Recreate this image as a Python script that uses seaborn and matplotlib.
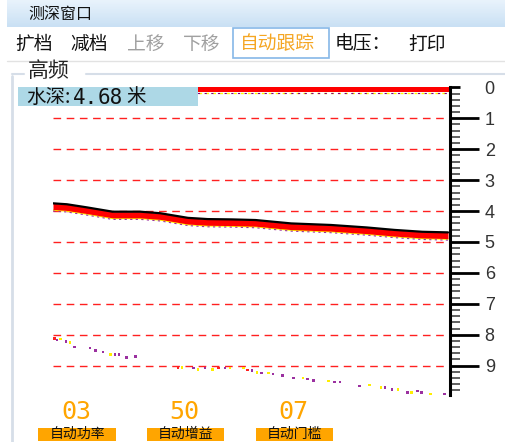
import numpy as np
import pandas as pd
import matplotlib
matplotlib.use("Agg")
import matplotlib.pyplot as plt
from matplotlib.patches import Rectangle
from matplotlib.lines import Line2D
import seaborn as sns

# ---------------- data ----------------
title_text = "测深窗口"
toolbar_items = ["扩档", "减档", "上移", "下移", "自动跟踪", "电压：", "打印"]
toolbar_x = [15, 70, 127, 183, 240, 335, 408]
toolbar_colors = ["#111111", "#111111", "#a0a0a0", "#a0a0a0", "#f5a623", "#111111", "#111111"]
group_title = "高频"
depth_value = "4.68"
depth_ticks = [0, 1, 2, 3, 4, 5, 6, 7, 8, 9]
grid_depths = [1, 2, 3, 4, 5, 6, 7, 8, 9]

# bottom profile (ping index 0..100, depth in m) - top edge of the echo
bottom_ping = [0, 3.5, 8.5, 15, 22, 27, 34, 39, 45, 51, 60, 70, 79, 86, 93, 99.5]
bottom_depth = [3.75, 3.78, 3.88, 4.02, 4.02, 4.07, 4.22, 4.26, 4.27, 4.29, 4.40, 4.45, 4.53, 4.61, 4.67, 4.69]

# second-echo scatter dots
echo_ping = [0.3, 1.0, 1.8, 3.3, 4.3, 5.5, 9.3, 10.8, 12.6, 14.4, 15.6, 16.6, 18.6, 20.7,
             31.5, 32.5, 35.3, 36.5, 38.3, 40.1, 41.6, 43.3, 44.6, 47.9, 48.9, 50.1, 51.4,
             52.6, 54.2, 55.4, 57.9, 60.5, 63.0, 64.2, 65.7, 69.3, 71.0, 72.3, 77.3, 79.8,
             82.6, 83.6, 85.4, 86.9, 89.2, 90.4, 91.9, 92.9, 95.0, 98.7]
echo_depth = [8.11, 8.17, 8.14, 8.21, 8.24, 8.40, 8.43, 8.50, 8.56, 8.63, 8.63, 8.63, 8.73, 8.70,
              9.05, 9.05, 9.08, 9.12, 9.08, 9.12, 9.08, 9.08, 9.08, 9.08, 9.14, 9.17, 9.21,
              9.24, 9.24, 9.27, 9.31, 9.40, 9.40, 9.43, 9.47, 9.50, 9.53, 9.53, 9.66, 9.63,
              9.70, 9.70, 9.76, 9.76, 9.86, 9.86, 9.82, 9.86, 9.92, 9.92]
echo_kind = ["r", "p", "y", "p", "y", "p", "p", "p", "p", "y", "p", "p", "p", "p",
             "r", "y", "p", "y", "p", "y", "r", "p", "y", "y", "r", "p", "y",
             "p", "y", "p", "p", "p", "y", "p", "p", "y", "p", "p", "p", "y",
             "y", "p", "p", "y", "p", "y", "p", "p", "y", "p"]

panel_values = ["03", "50", "07"]
panel_labels = ["自动功率", "自动增益", "自动门槛"]
panel_digit_x = [76, 184, 293]
panel_label_box = [(38, 116), (147, 224), (256, 333)]

# ---------------- style ----------------
sns.set_style("white")
plt.rcParams['font.family'] = ['Noto Sans CJK SC', 'DejaVu Sans']

W, H = 506, 442
fig = plt.figure(figsize=(W / 100, H / 100), dpi=100)
fig.patch.set_facecolor("white")

def fx(x):
    return x / W

def fy(y):
    return 1 - y / H

# ---- title bar (gradient) ----
tax = fig.add_axes([fx(7), fy(27), fx(499), 27 / H])
grad = np.linspace(0, 1, 50).reshape(-1, 1)
cmap = matplotlib.colors.LinearSegmentedColormap.from_list("tb", ["#e9f3fc", "#c9e0f4"])
tax.imshow(grad, aspect="auto", cmap=cmap, extent=[0, 1, 0, 1], origin="upper")
tax.set_axis_off()
fig.text(fx(28), fy(14), title_text, fontsize=11.5, color="#111111", va="center", ha="left")

# ---- toolbar ----
for label, x, c in zip(toolbar_items, toolbar_x, toolbar_colors):
    fig.text(fx(x), fy(44), label, fontsize=13.5, color=c, va="center", ha="left")
fig.patches.append(Rectangle((fx(233), fy(58)), fx(329) - fx(233), fy(28) - fy(58),
                             transform=fig.transFigure, facecolor="none",
                             edgecolor="#86b8e8", lw=1.2, zorder=3))
fig.lines.append(Line2D([fx(7), fx(506)], [fy(60.5), fy(60.5)], transform=fig.transFigure,
                        color="#e2e2e2", lw=1))

# ---- group box ----
gb_col = "#d6dee8"
fig.lines.append(Line2D([fx(12), fx(12)], [fy(442), fy(76)], transform=fig.transFigure, color=gb_col, lw=2))
fig.lines.append(Line2D([fx(12), fx(24)], [fy(73.5), fy(73.5)], transform=fig.transFigure, color=gb_col, lw=1.5))
fig.lines.append(Line2D([fx(86), fx(506)], [fy(73.5), fy(73.5)], transform=fig.transFigure, color=gb_col, lw=1.5))
fig.text(fx(28), fy(71), group_title, fontsize=15, color="#222222", va="center", ha="left")

# ---- sonar axes ----
top_px, bot_px = 87.4, 395
ax = fig.add_axes([fx(53), fy(bot_px), fx(450) - fx(53), (bot_px - top_px) / H])
ax.set_xlim(0, 100)
ax.set_ylim(9.95, 0)

for d in grid_depths:
    ax.axhline(d, color="#ff2020", lw=1, ls=(0, (5.5, 4)), zorder=1)

# surface band
ax.axhspan(0, 0.16, color="#ff0000", zorder=2, lw=0)
ax.axhline(0.18, color="#ffff00", lw=1, ls=(0, (2, 3)), zorder=2)
ax.axhline(0.19, color="#800080", lw=0.8, ls=(2, (2, 4)), zorder=2)

# bottom echo band
df_bottom = pd.DataFrame({"ping": bottom_ping, "depth": bottom_depth})
band = 0.2
ax.fill_between(df_bottom["ping"], df_bottom["depth"], df_bottom["depth"] + band,
                color="#ff0000", lw=0, zorder=3)
ax.plot(df_bottom["ping"], df_bottom["depth"] + band + 0.02, color="#ffff00", lw=1.0, zorder=2)
ax.plot(df_bottom["ping"], df_bottom["depth"] + band + 0.05, color="#9b30a0", lw=0.8,
        ls=(0, (2, 3)), zorder=2)
sns.lineplot(data=df_bottom, x="ping", y="depth", ax=ax, color="#000000", lw=1.6,
             zorder=4, estimator=None)

# second echo dots
df_echo = pd.DataFrame({"ping": echo_ping, "depth": echo_depth, "kind": echo_kind})
sns.scatterplot(data=df_echo, x="ping", y="depth", hue="kind",
                palette={"p": "#9b30a0", "y": "#ffee00", "r": "#ff2020"},
                marker="s", s=4, linewidth=0, ax=ax, legend=False, zorder=3)

ax.set_xlabel("")
ax.set_ylabel("")
for s in ["left", "top", "bottom"]:
    ax.spines[s].set_visible(False)
ax.spines["right"].set_linewidth(2.2)
ax.spines["right"].set_color("#000000")
ax.set_xticks([])
ax.yaxis.tick_right()
ax.set_yticks(depth_ticks)
ax.set_yticklabels([str(t) for t in depth_ticks])
ax.set_yticks(np.arange(0, 9.81, 0.2), minor=True)
ax.tick_params(axis="y", which="major", length=21, width=2, color="#000000",
               labelsize=13, labelcolor="#333333", pad=4, direction="out")
ax.tick_params(axis="y", which="minor", length=7, width=1.3, color="#555555", direction="out")
for lab in ax.get_yticklabels():
    lab.set_family(["Liberation Sans", "DejaVu Sans"])
ax.yaxis.get_major_ticks()[0].tick2line.set_markersize(7)
ax.patch.set_alpha(0)

# ---- depth readout ----
fig.patches.append(Rectangle((fx(18), fy(106)), fx(198) - fx(18), fy(87) - fy(106),
                             transform=fig.transFigure, facecolor="#add8e6",
                             edgecolor="none", zorder=5))
fig.text(fx(26), fy(97), "水深:", fontsize=14, color="#111111", va="center", ha="left", zorder=6)
fig.text(fx(73), fy(97.5), depth_value[:2], fontsize=15, color="#111111", va="center", ha="left",
         family=["DejaVu Sans Mono"], zorder=6)
fig.text(fx(98), fy(97.5), depth_value[2:], fontsize=15, color="#111111", va="center", ha="left",
         family=["DejaVu Sans Mono"], zorder=6)
fig.text(fx(126), fy(97), "米", fontsize=14, color="#111111", va="center", ha="left", zorder=6)

# ---- bottom panels ----
for val, xc, lab, (x0, x1) in zip(panel_values, panel_digit_x, panel_labels, panel_label_box):
    fig.text(fx(xc), fy(412), val, fontsize=18, color="#ffa500", va="center", ha="center",
             family=["DejaVu Sans Mono"])
    fig.patches.append(Rectangle((fx(x0), fy(441)), fx(x1) - fx(x0), fy(428) - fy(441),
                                 transform=fig.transFigure, facecolor="#ffa500",
                                 edgecolor="none", zorder=2))
    fig.text((fx(x0) + fx(x1)) / 2, fy(433.5), lab, fontsize=10, color="#111111",
             va="center", ha="center", zorder=3)

fig.savefig("out.png", dpi=100)
